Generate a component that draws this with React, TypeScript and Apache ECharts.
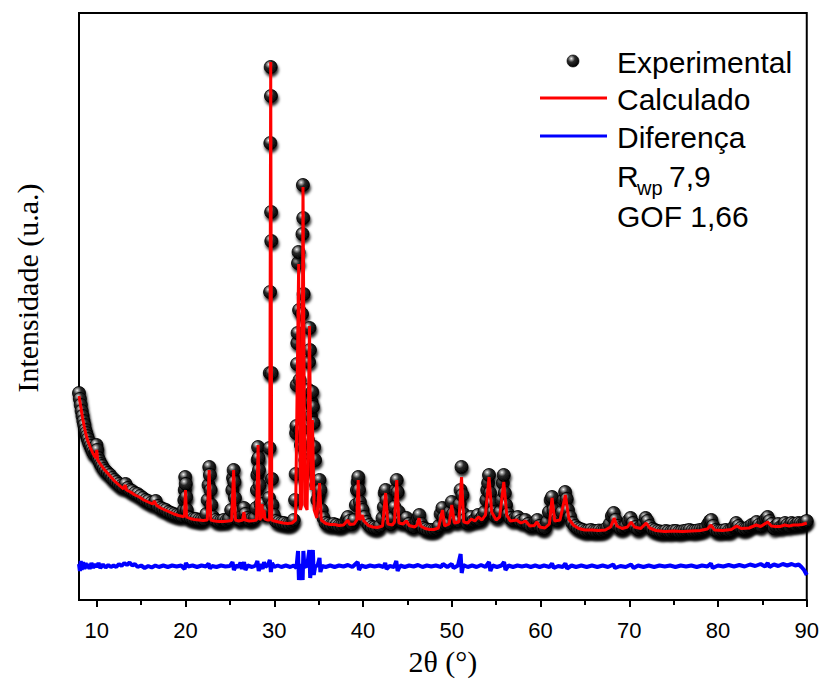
import { useEffect, useRef } from 'react';
import * as echarts from 'echarts';

// 2θ (°), intensity (a.u.) — observed pattern
const experimental: [number, number][] = [
  [8.0,2070],[8.1,2010],[8.2,1950],[8.3,1890],[8.4,1840],[8.5,1790],[8.6,1750],[8.7,1700],[8.8,1670],[8.9,1640],
  [9.0,1610],[9.15,1570],[9.3,1540],[9.45,1510],[9.6,1480],[9.75,1460],[9.9,1470],[9.97,1550],[10.05,1500],[10.15,1420],
  [10.3,1390],[10.45,1360],[10.6,1340],[10.8,1310],[11.0,1290],[11.25,1270],[11.5,1250],[11.75,1220],[12.0,1200],[12.25,1180],
  [12.5,1160],[12.75,1140],[13.0,1130],[13.25,1160],[13.5,1120],[13.75,1100],[14.0,1090],[14.3,1070],[14.6,1060],[14.9,1040],
  [15.2,1020],[15.5,1000],[15.8,990],[16.1,970],[16.4,960],[16.65,990],[16.9,940],[17.2,920],[17.5,910],[17.8,900],
  [18.1,880],[18.4,870],[18.7,860],[19.0,850],[19.3,845],[19.6,840],[19.8,900],[19.87,1000],[19.92,1100],[19.97,1230],
  [20.03,1160],[20.08,1030],[20.15,900],[20.3,830],[20.6,820],[20.9,810],[21.2,810],[21.5,800],[21.8,800],[22.1,805],
  [22.35,860],[22.5,1000],[22.6,1150],[22.68,1330],[22.75,1250],[22.83,1100],[22.92,950],[23.1,830],[23.4,800],[23.7,790],
  [24.0,790],[24.3,800],[24.6,790],[24.9,810],[25.15,900],[25.28,1100],[25.36,1220],[25.43,1300],[25.5,1180],[25.58,1020],
  [25.7,880],[25.9,810],[26.2,800],[26.45,850],[26.6,920],[26.75,860],[26.95,820],[27.2,800],[27.5,810],[27.8,820],
  [27.95,920],[28.05,1100],[28.1,1250],[28.14,1400],[28.18,1530],[28.23,1420],[28.28,1300],[28.35,1150],[28.45,960],[28.6,900],
  [28.75,960],[28.9,880],[29.1,850],[29.3,900],[29.42,1020],[29.47,1520],[29.5,2270],[29.53,3080],[29.56,4570],[29.6,5330],
  [29.63,5040],[29.65,3880],[29.67,3590],[29.7,2270],[29.74,1210],[29.8,950],[29.95,850],[30.2,790],[30.5,780],[30.8,770],
  [31.1,770],[31.4,760],[31.7,760],[32.0,770],[32.2,800],[32.35,1000],[32.42,1260],[32.47,1670],[32.5,1740],[32.53,2150],
  [32.57,2360],[32.6,2570],[32.63,2670],[32.68,3370],[32.74,3480],[32.8,2900],[32.86,2200],[32.92,1700],[33.0,1550],[33.08,1700],
  [33.13,2860],[33.18,3660],[33.23,4150],[33.27,3820],[33.31,3060],[33.36,2100],[33.42,1600],[33.5,1400],[33.6,1300],[33.7,1350],
  [33.8,1600],[33.87,2100],[33.92,2380],[33.97,2720],[34.02,2500],[34.07,1980],[34.13,1840],[34.2,1980],[34.28,2080],[34.35,1930],
  [34.42,1770],[34.5,1530],[34.6,1400],[34.72,1150],[34.85,1000],[35.0,1050],[35.1,1200],[35.2,1100],[35.35,900],[35.55,820],
  [35.8,770],[36.1,760],[36.4,750],[36.7,760],[37.0,750],[37.3,740],[37.6,745],[37.9,760],[38.15,800],[38.3,830],
  [38.5,790],[38.75,760],[39.0,800],[39.2,950],[39.32,1100],[39.4,1180],[39.47,1230],[39.55,1100],[39.65,980],[39.8,920],
  [39.95,900],[40.15,830],[40.4,780],[40.7,750],[41.0,730],[41.3,725],[41.6,720],[41.9,740],[42.2,820],[42.35,930],
  [42.45,1070],[42.55,1100],[42.65,1000],[42.78,860],[42.95,780],[43.15,760],[43.35,820],[43.55,930],[43.68,1100],[43.8,1200],
  [43.9,1080],[44.02,880],[44.2,790],[44.45,780],[44.7,800],[44.9,820],[45.15,760],[45.45,740],[45.75,730],[46.0,780],
  [46.2,820],[46.35,850],[46.55,760],[46.8,720],[47.1,710],[47.4,700],[47.7,700],[48.0,700],[48.3,710],[48.55,740],
  [48.75,860],[48.95,920],[49.1,820],[49.35,760],[49.6,770],[49.8,880],[50.0,980],[50.15,860],[50.4,790],[50.7,790],
  [50.9,960],[51.0,1100],[51.1,1330],[51.2,1050],[51.32,860],[51.5,800],[51.75,770],[52.0,790],[52.2,830],[52.45,790],
  [52.7,810],[52.95,850],[53.2,800],[53.45,830],[53.7,880],[53.9,1000],[54.0,1100],[54.1,1170],[54.2,1250],[54.32,1070],
  [54.45,970],[54.65,880],[54.9,840],[55.2,830],[55.45,880],[55.62,1000],[55.75,1170],[55.86,1250],[55.98,1070],[56.12,950],
  [56.35,860],[56.6,820],[56.9,800],[57.2,820],[57.45,830],[57.7,790],[58.0,780],[58.3,800],[58.6,760],[58.9,740],
  [59.2,750],[59.45,780],[59.65,800],[59.9,740],[60.2,720],[60.5,720],[60.75,780],[60.95,880],[61.15,1000],[61.3,1030],
  [61.45,900],[61.65,820],[61.9,800],[62.15,830],[62.4,880],[62.6,1000],[62.78,1080],[62.95,1010],[63.1,900],[63.35,830],
  [63.6,770],[63.9,740],[64.2,720],[64.5,710],[64.8,700],[65.1,690],[65.4,695],[65.7,700],[66.0,690],[66.3,690],
  [66.6,695],[66.9,690],[67.2,700],[67.5,720],[67.8,760],[68.05,840],[68.25,870],[68.45,800],[68.7,740],[69.0,720],
  [69.3,720],[69.6,740],[69.9,790],[70.15,820],[70.4,770],[70.7,730],[71.0,710],[71.3,730],[71.6,760],[71.85,820],
  [72.05,790],[72.3,740],[72.6,710],[72.9,700],[73.2,690],[73.5,685],[73.8,680],[74.1,690],[74.4,685],[74.7,680],
  [75.0,690],[75.3,690],[75.6,680],[75.9,685],[76.2,690],[76.5,695],[76.8,700],[77.1,690],[77.4,690],[77.7,695],
  [78.0,700],[78.3,705],[78.6,720],[78.9,760],[79.1,790],[79.25,800],[79.45,740],[79.7,700],[80.0,690],[80.3,690],
  [80.6,695],[80.9,700],[81.2,690],[81.5,700],[81.8,730],[82.05,770],[82.3,740],[82.6,720],[82.9,710],[83.2,715],
  [83.5,730],[83.8,750],[84.1,760],[84.35,780],[84.6,750],[84.9,740],[85.15,780],[85.4,810],[85.6,830],[85.8,790],
  [86.05,760],[86.3,720],[86.55,740],[86.8,760],[87.05,730],[87.3,740],[87.55,770],[87.8,750],[88.05,740],[88.3,770],
  [88.55,760],[88.8,750],[89.05,770],[89.3,765],[89.55,760],[89.8,780],[90.0,790],
];

// Rietveld calculated profile
const calculated: [number, number][] = [
  [8.0,2040],[8.2,1930],[8.4,1820],[8.6,1730],[8.8,1650],[9.0,1590],[9.3,1520],[9.6,1460],[9.9,1420],[10.0,1500],
  [10.1,1400],[10.4,1360],[10.8,1310],[11.2,1270],[11.6,1230],[12.0,1190],[12.5,1150],[13.0,1110],[13.2,1150],[13.35,1100],
  [13.8,1080],[14.3,1050],[14.8,1030],[15.3,1000],[15.8,980],[16.3,960],[16.5,990],[16.7,950],[17.2,920],[17.7,900],
  [18.2,880],[18.7,860],[19.2,845],[19.7,835],[19.88,840],[20.0,1100],[20.12,830],[20.5,815],[21.0,805],[21.5,800],
  [22.0,795],[22.45,800],[22.66,1300],[22.85,800],[23.3,790],[23.8,785],[24.3,785],[24.8,790],[25.2,795],[25.42,1300],
  [25.62,800],[26.0,790],[26.45,800],[26.58,880],[26.72,800],[27.2,790],[27.7,795],[28.0,800],[28.18,1550],[28.36,800],
  [28.55,830],[28.62,960],[28.7,820],[28.85,900],[28.95,810],[29.2,800],[29.48,800],[29.6,5380],[29.72,800],[30.0,790],
  [30.5,780],[31.0,770],[31.5,765],[32.0,770],[32.4,800],[32.75,3360],[32.95,900],[33.08,950],[33.24,4130],[33.45,950],
  [33.7,900],[33.97,2740],[34.15,1100],[34.3,1800],[34.5,900],[34.8,820],[35.1,1170],[35.3,800],[35.8,765],[36.3,755],
  [36.8,755],[37.3,745],[37.8,750],[38.3,800],[38.5,755],[39.0,760],[39.3,800],[39.46,1200],[39.62,800],[39.9,850],
  [40.1,790],[40.6,745],[41.1,730],[41.6,725],[42.2,740],[42.55,1070],[42.8,760],[43.3,750],[43.55,780],[43.8,1200],
  [44.05,770],[44.5,760],[44.9,790],[45.2,745],[45.8,730],[46.1,750],[46.3,820],[46.5,740],[47.0,715],[47.5,705],
  [48.0,705],[48.5,720],[48.95,900],[49.2,740],[49.7,760],[50.0,950],[50.3,770],[50.8,780],[51.1,1230],[51.35,780],
  [51.8,770],[52.2,810],[52.6,790],[53.0,830],[53.4,800],[53.8,850],[54.2,1230],[54.5,880],[55.0,800],[55.4,830],
  [55.86,1180],[56.2,850],[56.6,790],[57.3,800],[57.8,770],[58.3,790],[58.8,740],[59.3,745],[59.6,780],[59.9,730],
  [60.5,720],[61.0,760],[61.3,1020],[61.6,790],[62.2,800],[62.8,1050],[63.2,810],[63.7,750],[64.3,715],[65.0,700],
  [65.8,700],[66.5,695],[67.3,700],[67.9,730],[68.3,820],[68.6,740],[69.2,715],[69.8,730],[70.2,780],[70.6,730],
  [71.3,715],[71.9,770],[72.3,720],[73.0,695],[74.0,685],[75.0,690],[76.0,685],[77.0,690],[78.0,695],[78.8,710],
  [79.2,750],[79.6,700],[80.5,695],[81.5,705],[82.1,740],[82.6,715],[83.5,720],[84.3,750],[84.8,735],[85.6,780],
  [86.0,740],[86.5,735],[87.0,735],[87.5,750],[88.0,740],[88.5,750],[89.0,750],[89.5,755],[90.0,770],
];

// observed − calculated, drawn with an offset below the pattern
const difference: [number, number][] = [
  [8.0,360],[8.1,290],[8.2,390],[8.3,300],[8.45,380],[8.6,310],[8.75,370],[8.9,320],[9.05,360],[9.2,310],
  [9.4,370],[9.6,320],[9.8,360],[10.0,330],[10.2,370],[10.4,320],[10.7,355],[11.0,325],[11.3,350],[11.6,330],
  [11.9,345],[12.2,330],[12.5,360],[12.8,340],[13.1,370],[13.4,350],[13.7,375],[14.0,345],[14.3,360],[14.6,330],
  [15.0,345],[15.4,320],[15.8,340],[16.2,325],[16.6,345],[17.0,330],[17.5,345],[18.0,330],[18.5,345],[19.0,335],
  [19.5,345],[19.9,310],[20.05,370],[20.3,335],[20.8,345],[21.3,330],[21.8,345],[22.3,335],[22.6,365],[22.75,315],
  [23.0,340],[23.5,330],[24.0,345],[24.5,335],[25.0,340],[25.3,380],[25.45,300],[25.7,345],[26.0,330],[26.2,375],
  [26.35,310],[26.6,380],[26.75,300],[27.0,345],[27.5,330],[27.9,345],[28.1,390],[28.25,290],[28.45,360],[28.7,310],
  [28.85,380],[29.0,330],[29.3,350],[29.5,400],[29.62,280],[29.75,370],[30.0,330],[30.4,345],[30.8,330],[31.3,345],
  [31.8,330],[32.2,345],[32.5,320],[32.68,490],[32.78,200],[32.9,360],[33.1,300],[33.2,200],[33.28,490],[33.4,330],
  [33.7,340],[33.95,500],[34.05,220],[34.2,360],[34.35,500],[34.45,250],[34.6,330],[34.9,350],[35.1,420],[35.2,280],
  [35.4,340],[35.8,330],[36.3,345],[36.8,330],[37.3,345],[37.8,335],[38.3,350],[38.8,330],[39.4,380],[39.55,300],
  [39.8,345],[40.3,330],[40.8,345],[41.3,335],[41.8,345],[42.3,330],[42.5,370],[42.65,310],[43.0,340],[43.5,330],
  [43.75,390],[43.9,290],[44.2,345],[44.7,330],[45.2,345],[45.7,335],[46.2,350],[46.7,330],[47.2,345],[47.7,335],
  [48.2,345],[48.8,330],[49.0,360],[49.5,330],[50.0,360],[50.2,320],[50.7,345],[51.0,460],[51.12,270],[51.3,350],
  [51.8,330],[52.3,345],[52.8,330],[53.3,350],[53.8,330],[54.2,380],[54.35,290],[54.6,345],[55.1,330],[55.6,345],
  [55.9,380],[56.05,300],[56.4,345],[56.9,330],[57.4,345],[57.9,335],[58.4,345],[58.9,330],[59.4,345],[59.9,330],
  [60.4,345],[61.0,330],[61.3,365],[61.5,320],[62.0,340],[62.5,330],[62.8,365],[63.0,315],[63.5,345],[64.0,330],
  [64.6,345],[65.2,330],[65.8,345],[66.4,330],[67.0,345],[67.6,330],[68.2,355],[68.4,320],[69.0,340],[69.6,330],
  [70.2,355],[70.5,320],[71.0,345],[71.6,330],[72.2,345],[72.8,330],[73.4,345],[74.0,335],[74.6,345],[75.2,330],
  [75.8,345],[76.4,335],[77.0,345],[77.6,330],[78.2,345],[78.8,335],[79.2,365],[79.4,320],[80.0,345],[80.6,335],
  [81.2,350],[81.8,335],[82.4,350],[83.0,335],[83.6,355],[84.2,340],[84.8,360],[85.3,335],[85.6,370],[85.8,330],
  [86.3,355],[86.8,340],[87.3,360],[87.8,345],[88.3,360],[88.7,345],[89.1,355],[89.4,330],[89.7,300],[90.0,250],
];

const majorTicks = [10, 20, 30, 40, 50, 60, 70, 80, 90];
const minorTicks = [15, 25, 35, 45, 55, 65, 75, 85];
const seriesNames = ['Experimental', 'Calculado', 'Diferença'];
const statLabels = { rwp: '7,9', gof: 'GOF 1,66' };
const axisTitles = { x: '2θ (°)', y: 'Intensidade (u.a.)' };

const SANS = '"Liberation Sans", Arial, sans-serif';
const SERIF = '"Liberation Serif", "Times New Roman", serif';

export default function App() {
  const ref = useRef<HTMLDivElement>(null);
  useEffect(() => {
    if (!ref.current) return;
    const chart = echarts.init(ref.current, null, { renderer: 'svg' });
    const sphere = () =>
      new echarts.graphic.RadialGradient(0.36, 0.3, 0.72, [
        { offset: 0, color: '#f4f4f4' },
        { offset: 0.16, color: '#a0a0a0' },
        { offset: 0.42, color: '#2a2a2a' },
        { offset: 1, color: '#000000' },
      ]);
    chart.setOption({
      animation: false,
      backgroundColor: '#ffffff',
      grid: {
        left: 79, right: 15, top: 13, bottom: 91,
        show: true, borderColor: '#000', borderWidth: 2, backgroundColor: 'transparent',
      },
      xAxis: [
        {
          type: 'value', min: 8, max: 90, position: 'bottom',
          axisLine: { show: true, lineStyle: { color: '#000', width: 2 } },
          axisTick: { show: true, inside: false, length: 7, customValues: majorTicks, lineStyle: { color: '#000', width: 2 } },
          axisLabel: { show: true, customValues: majorTicks, margin: 19, fontSize: 22, fontFamily: SANS, color: '#000' },
          splitLine: { show: false },
          name: axisTitles.x, nameLocation: 'middle', nameGap: 46,
          nameTextStyle: { fontFamily: SERIF, fontSize: 30, color: '#000' },
        },
        {
          type: 'value', min: 8, max: 90, position: 'bottom',
          axisLine: { show: false },
          axisTick: { show: true, inside: false, length: 5, customValues: minorTicks, lineStyle: { color: '#000', width: 2 } },
          axisLabel: { show: false },
          splitLine: { show: false },
        },
      ],
      yAxis: {
        type: 'value', min: 0, max: 5870,
        axisLine: { show: true, lineStyle: { color: '#000', width: 2 } },
        axisTick: { show: false }, axisLabel: { show: false }, splitLine: { show: false },
      },
      series: [
        {
          name: seriesNames[0], type: 'scatter', xAxisIndex: 0, data: experimental,
          symbol: 'circle', symbolSize: 13, z: 2,
          itemStyle: {
            color: sphere(), borderColor: '#000', borderWidth: 0.8, opacity: 1,
            shadowColor: 'rgba(0,0,0,0.85)', shadowBlur: 3, shadowOffsetX: 1, shadowOffsetY: 3,
          },
        },
        {
          name: seriesNames[1], type: 'line', xAxisIndex: 0, data: calculated,
          symbol: 'none', z: 3, lineStyle: { color: '#ff0000', width: 3 },
        },
        {
          name: seriesNames[2], type: 'line', xAxisIndex: 0, data: difference,
          symbol: 'none', z: 3, lineStyle: { color: '#0000ff', width: 4 },
        },
      ],
      graphic: [
        { type: 'text', x: 27, y: 288, rotation: Math.PI / 2,
          style: { text: axisTitles.y, fontSize: 30, fontFamily: SERIF, fill: '#000', textAlign: 'center', textVerticalAlign: 'middle' } },
        { type: 'circle', shape: { cx: 573, cy: 61, r: 6 }, style: { fill: sphere(), stroke: '#000', lineWidth: 0.6 } },
        { type: 'line', shape: { x1: 540, y1: 98, x2: 607, y2: 98 }, style: { stroke: '#ff0000', lineWidth: 3 } },
        { type: 'line', shape: { x1: 540, y1: 136, x2: 607, y2: 136 }, style: { stroke: '#0000ff', lineWidth: 3 } },
        { type: 'text', x: 617, y: 62, style: { text: seriesNames[0], fontSize: 30, fontFamily: SANS, fill: '#000', textVerticalAlign: 'middle' } },
        { type: 'text', x: 617, y: 99, style: { text: seriesNames[1], fontSize: 30, fontFamily: SANS, fill: '#000', textVerticalAlign: 'middle' } },
        { type: 'text', x: 617, y: 137, style: { text: seriesNames[2], fontSize: 30, fontFamily: SANS, fill: '#000', textVerticalAlign: 'middle' } },
        { type: 'text', x: 617, y: 176, style: { text: 'R', fontSize: 30, fontFamily: SANS, fill: '#000', textVerticalAlign: 'middle' } },
        { type: 'text', x: 637, y: 188, style: { text: 'wp', fontSize: 20, fontFamily: SANS, fill: '#000', textVerticalAlign: 'middle' } },
        { type: 'text', x: 669, y: 176, style: { text: statLabels.rwp, fontSize: 30, fontFamily: SANS, fill: '#000', textVerticalAlign: 'middle' } },
        { type: 'text', x: 617, y: 216, style: { text: statLabels.gof, fontSize: 30, fontFamily: SANS, fill: '#000', textVerticalAlign: 'middle' } },
      ],
    });
    return () => chart.dispose();
  }, []);
  return <div ref={ref} style={{ position: 'absolute', left: 0, top: 0, width: 822, height: 691 }} />;
}
